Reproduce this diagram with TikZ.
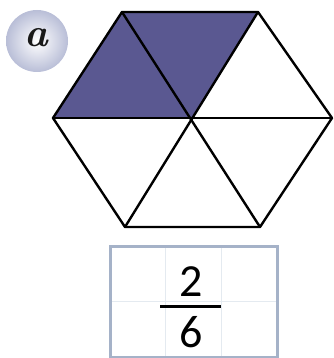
\documentclass[tikz,border=0pt]{standalone}
\usepackage{fontspec}
\newfontfamily\digitfont{Carlito}
\definecolor{hexfill}{RGB}{90,88,145}
\definecolor{boxborder}{RGB}{165,178,200}
\definecolor{gridc}{RGB}{228,234,240}
\definecolor{ballout}{RGB}{185,190,215}
\tikzset{
  edge/.style={line width=2.4pt, line join=round, line cap=round, black},
  frac/.style={font=\digitfont\fontsize{46}{46}\selectfont, inner sep=0pt, anchor=center}
}
\begin{document}
\begin{tikzpicture}[x=1pt,y=-1pt]
\useasboundingbox (0,0) rectangle (333,358);
% label ball
\shade[inner color=white, outer color=ballout] (37,41) circle (31);
\node[font=\fontsize{40}{40}\selectfont\bfseries\itshape, text=black!90] (lab) at (36,38) {a};
% hexagon vertices
\coordinate (L) at (53,118);
\coordinate (TL) at (122,12);
\coordinate (TR) at (258,12);
\coordinate (R) at (332,118);
\coordinate (BR) at (260,227);
\coordinate (BL) at (125,227);
\coordinate (C) at (193,118);
\fill[hexfill] (L) -- (TL) -- (TR) -- (C) -- cycle;
\draw[edge] (L) -- (TL) -- (TR) -- (R) -- (BR) -- (BL) -- cycle;
\draw[edge] (L) -- (R);
\draw[edge] (TL) -- (BR);
\draw[edge] (TR) -- (BL);
% answer box
\draw[gridc, line width=1.2pt] (165.7,246) -- (165.7,357) (221.3,246) -- (221.3,357) (110,301.5) -- (277,301.5);
\draw[boxborder, line width=3pt] (110,246) rectangle (277,357);
\node[frac] (num) at (191,282) {2};
\node[frac] (den) at (191,332) {6};
\draw[black, line width=3pt] (160,306) -- (221,306);
\end{tikzpicture}
\end{document}
